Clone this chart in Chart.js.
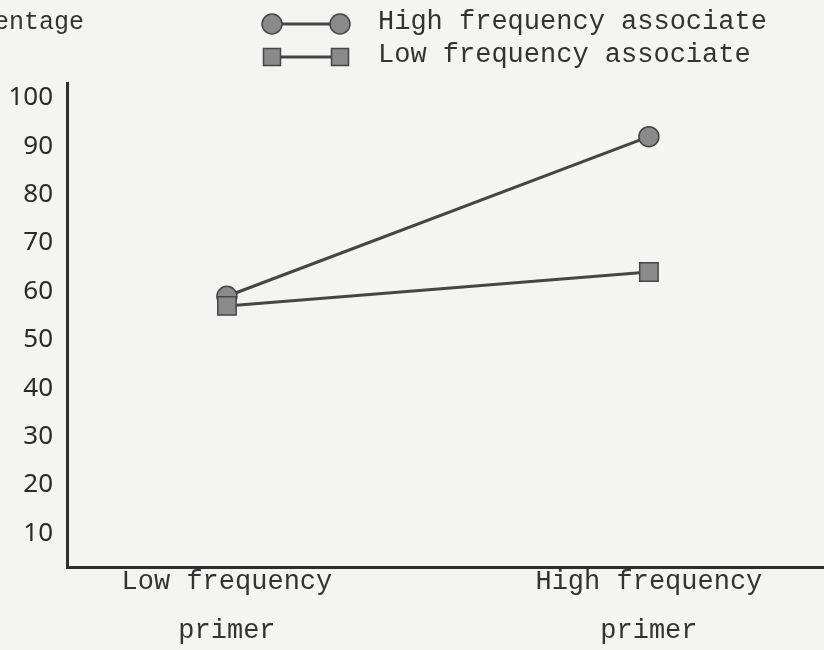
<!DOCTYPE html>
<html>
<head>
<meta charset="utf-8">
<script src="https://cdn.jsdelivr.net/npm/chart.js@4/dist/chart.umd.min.js"></script>
<style>
  html, body { margin: 0; padding: 0; background: #f4f4f2; }
  #wrap { width: 824px; height: 650px; }
</style>
</head>
<body>
<div id="wrap"><canvas id="chart" width="824" height="650"></canvas></div>
<script>
// values
const primers = [['Low frequency', 'primer'], ['High frequency', 'primer']];
const highAssociate = [59, 92];
const lowAssociate = [57, 64];
const yTickValues = [10, 20, 30, 40, 50, 60, 70, 80, 90, 100];
const seriesNames = ['High frequency associate', 'Low frequency associate'];

const ink = '#333333';
const lineInk = '#454545';
const markFill = '#8a8a8a';
const mono = '"Liberation Mono", "DejaVu Sans Mono", monospace';

// legend drawn like the typed original: a line with a marker at both ends
const paperLegend = {
    id: 'paperLegend',
    afterDraw(chart) {
        const ctx = chart.ctx;
        ctx.save();
        // y axis title, cut off at the left edge in the scan
        ctx.fillStyle = ink;
        ctx.font = '25px ' + mono;
        ctx.textAlign = 'right';
        ctx.textBaseline = 'alphabetic';
        ctx.fillText('Percentage', 84, 29);

        const rows = [
            { y: 24, style: 'circle', radius: 10, text: seriesNames[0], ty: 29 },
            { y: 57, style: 'rect', radius: 12, text: seriesNames[1], ty: 62 }
        ];
        rows.forEach(r => {
            ctx.strokeStyle = lineInk;
            ctx.lineWidth = 3;
            ctx.beginPath();
            ctx.moveTo(272, r.y);
            ctx.lineTo(340, r.y);
            ctx.stroke();
            [272, 340].forEach(x => {
                ctx.fillStyle = markFill;
                ctx.strokeStyle = lineInk;
                ctx.lineWidth = 1.5;
                Chart.helpers.drawPoint(ctx, { pointStyle: r.style, radius: r.radius, borderWidth: 1.5 }, x, r.y);
            });
            ctx.fillStyle = ink;
            ctx.font = '27px ' + mono;
            ctx.textAlign = 'left';
            ctx.fillText(r.text, 378, r.ty);
        });
        ctx.restore();
    }
};

const paper = {
    id: 'paper',
    beforeDraw(chart) {
        const ctx = chart.ctx;
        ctx.save();
        ctx.fillStyle = '#f4f4f2';
        ctx.fillRect(0, 0, chart.width, chart.height);
        ctx.restore();
    }
};

new Chart(document.getElementById('chart').getContext('2d'), {
    type: 'line',
    data: {
        datasets: [
            {
                label: seriesNames[0],
                data: highAssociate.map((v, i) => ({ x: i, y: v })),
                borderColor: lineInk,
                borderWidth: 3,
                pointStyle: 'circle',
                pointRadius: 10,
                pointBackgroundColor: markFill,
                pointBorderColor: lineInk,
                pointBorderWidth: 1.5,
                order: 2
            },
            {
                label: seriesNames[1],
                data: lowAssociate.map((v, i) => ({ x: i, y: v })),
                borderColor: lineInk,
                borderWidth: 3,
                pointStyle: 'rect',
                pointRadius: 13,
                pointBackgroundColor: markFill,
                pointBorderColor: lineInk,
                pointBorderWidth: 1.5,
                order: 1
            }
        ]
    },
    options: {
        responsive: false,
        animation: false,
        layout: { autoPadding: false, padding: { top: 83, right: 0, bottom: 0, left: 0 } },
        plugins: {
            legend: { display: false },
            tooltip: { enabled: false }
        },
        scales: {
            x: {
                type: 'linear',
                min: -0.379,
                max: 1.415,
                grid: { display: false, drawTicks: false },
                border: { display: true, color: '#2e2e2e', width: 3 },
                afterBuildTicks: s => { s.ticks = primers.map((p, i) => ({ value: i })); },
                afterFit: s => { s.height = 83; },
                ticks: {
                    padding: -10,
                    color: ink,
                    font: { family: mono, size: 27, lineHeight: '49px' },
                    callback: v => primers[v],
                    maxRotation: 0
                }
            },
            y: {
                min: 3,
                max: 103.1,
                grid: { display: false, drawTicks: false },
                border: { display: true, color: '#2e2e2e', width: 3 },
                afterBuildTicks: s => { s.ticks = yTickValues.map(v => ({ value: v })); },
                afterFit: s => { s.width = 67; },
                ticks: {
                    padding: 14,
                    color: '#2a2a2a',
                    font: { family: '"Noto Sans", sans-serif', size: 26 }
                }
            }
        }
    },
    plugins: [paper, paperLegend]
});
</script>
</body>
</html>
